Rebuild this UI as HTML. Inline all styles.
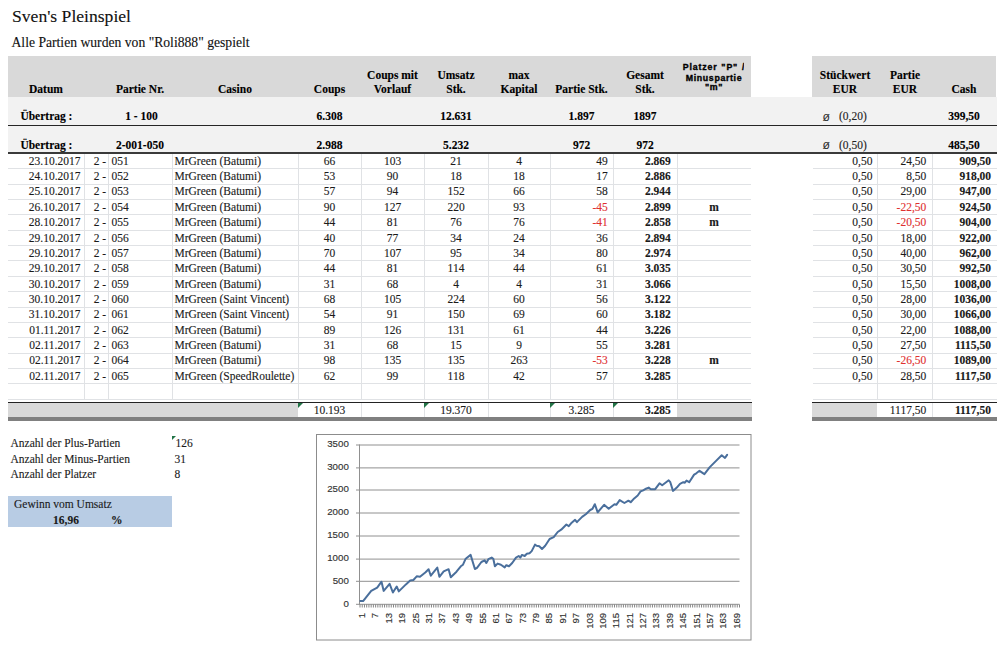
<!DOCTYPE html>
<html><head><meta charset="utf-8"><title>Sven's Pleinspiel</title>
<style>
html,body{margin:0;padding:0;background:#fff;}
body{width:1000px;height:647px;position:relative;overflow:hidden;}
</style></head><body>
<div style="position:absolute;left:12px;top:7.56px;width:288.00px;font:17.6px/17.6px 'Liberation Serif', serif;text-align:left;color:#111;white-space:nowrap;-webkit-text-stroke:0.12px #111;">Sven's Pleinspiel</div>
<div style="position:absolute;left:11.5px;top:36.47px;width:388.50px;font:13.65px/13.65px 'Liberation Serif', serif;text-align:left;color:#111;white-space:nowrap;-webkit-text-stroke:0.12px #111;">Alle Partien wurden von "Roli888" gespielt</div>
<div style="position:absolute;left:8px;top:56px;width:743.00px;height:40.50px;background:#d9d9d9"></div>
<div style="position:absolute;left:812px;top:56px;width:184.00px;height:40.50px;background:#d9d9d9"></div>
<div style="position:absolute;left:8px;top:96.5px;width:989.00px;height:56.50px;background:#f2f2f2"></div>
<div style="position:absolute;left:-4px;top:83.57px;width:100.00px;font:bold 11.5px/11.5px 'Liberation Serif', serif;text-align:center;color:#000;white-space:nowrap;-webkit-text-stroke:0.12px #000;">Datum</div>
<div style="position:absolute;left:90px;top:83.57px;width:100.00px;font:bold 11.5px/11.5px 'Liberation Serif', serif;text-align:center;color:#000;white-space:nowrap;-webkit-text-stroke:0.12px #000;">Partie Nr.</div>
<div style="position:absolute;left:185px;top:83.57px;width:100.00px;font:bold 11.5px/11.5px 'Liberation Serif', serif;text-align:center;color:#000;white-space:nowrap;-webkit-text-stroke:0.12px #000;">Casino</div>
<div style="position:absolute;left:279.5px;top:83.57px;width:100.00px;font:bold 11.5px/11.5px 'Liberation Serif', serif;text-align:center;color:#000;white-space:nowrap;-webkit-text-stroke:0.12px #000;">Coups</div>
<div style="position:absolute;left:342.5px;top:69.77px;width:100.00px;font:bold 11.5px/11.5px 'Liberation Serif', serif;text-align:center;color:#000;white-space:nowrap;-webkit-text-stroke:0.12px #000;">Coups mit</div>
<div style="position:absolute;left:342.5px;top:83.57px;width:100.00px;font:bold 11.5px/11.5px 'Liberation Serif', serif;text-align:center;color:#000;white-space:nowrap;-webkit-text-stroke:0.12px #000;">Vorlauf</div>
<div style="position:absolute;left:406px;top:69.77px;width:100.00px;font:bold 11.5px/11.5px 'Liberation Serif', serif;text-align:center;color:#000;white-space:nowrap;-webkit-text-stroke:0.12px #000;">Umsatz</div>
<div style="position:absolute;left:406px;top:83.57px;width:100.00px;font:bold 11.5px/11.5px 'Liberation Serif', serif;text-align:center;color:#000;white-space:nowrap;-webkit-text-stroke:0.12px #000;">Stk.</div>
<div style="position:absolute;left:469px;top:69.77px;width:100.00px;font:bold 11.5px/11.5px 'Liberation Serif', serif;text-align:center;color:#000;white-space:nowrap;-webkit-text-stroke:0.12px #000;">max</div>
<div style="position:absolute;left:469px;top:83.57px;width:100.00px;font:bold 11.5px/11.5px 'Liberation Serif', serif;text-align:center;color:#000;white-space:nowrap;-webkit-text-stroke:0.12px #000;">Kapital</div>
<div style="position:absolute;left:531.5px;top:83.57px;width:100.00px;font:bold 11.5px/11.5px 'Liberation Serif', serif;text-align:center;color:#000;white-space:nowrap;-webkit-text-stroke:0.12px #000;">Partie Stk.</div>
<div style="position:absolute;left:595px;top:69.77px;width:100.00px;font:bold 11.5px/11.5px 'Liberation Serif', serif;text-align:center;color:#000;white-space:nowrap;-webkit-text-stroke:0.12px #000;">Gesamt</div>
<div style="position:absolute;left:595px;top:83.57px;width:100.00px;font:bold 11.5px/11.5px 'Liberation Serif', serif;text-align:center;color:#000;white-space:nowrap;-webkit-text-stroke:0.12px #000;">Stk.</div>
<div style="position:absolute;left:795px;top:69.77px;width:100.00px;font:bold 11.5px/11.5px 'Liberation Serif', serif;text-align:center;color:#000;white-space:nowrap;-webkit-text-stroke:0.12px #000;">Stückwert</div>
<div style="position:absolute;left:795px;top:83.57px;width:100.00px;font:bold 11.5px/11.5px 'Liberation Serif', serif;text-align:center;color:#000;white-space:nowrap;-webkit-text-stroke:0.12px #000;">EUR</div>
<div style="position:absolute;left:855px;top:69.77px;width:100.00px;font:bold 11.5px/11.5px 'Liberation Serif', serif;text-align:center;color:#000;white-space:nowrap;-webkit-text-stroke:0.12px #000;">Partie</div>
<div style="position:absolute;left:855px;top:83.57px;width:100.00px;font:bold 11.5px/11.5px 'Liberation Serif', serif;text-align:center;color:#000;white-space:nowrap;-webkit-text-stroke:0.12px #000;">EUR</div>
<div style="position:absolute;left:914px;top:83.57px;width:100.00px;font:bold 11.5px/11.5px 'Liberation Serif', serif;text-align:center;color:#000;white-space:nowrap;-webkit-text-stroke:0.12px #000;">Cash</div>
<div style="position:absolute;left:677px;top:56px;width:67px;height:40px;overflow:hidden">
<div style="position:absolute;left:0;top:7.15px;width:74px;font:bold 8.8px/8.8px 'Liberation Sans', sans-serif;letter-spacing:0.85px;word-spacing:0.5px;-webkit-text-stroke:0.35px #000;text-align:center;white-space:nowrap;color:#000">Platzer "P" /</div>
<div style="position:absolute;left:0;top:17.85px;width:74px;font:bold 8.8px/8.8px 'Liberation Sans', sans-serif;letter-spacing:0.64px;word-spacing:0px;-webkit-text-stroke:0.35px #000;text-align:center;white-space:nowrap;color:#000">Minuspartie</div>
<div style="position:absolute;left:0;top:27.35px;width:74px;font:bold 8.8px/8.8px 'Liberation Sans', sans-serif;letter-spacing:0.64px;word-spacing:0px;-webkit-text-stroke:0.35px #000;text-align:center;white-space:nowrap;color:#000">"m"</div>
</div>
<div style="position:absolute;left:20.4px;top:111.37px;width:79.60px;font:bold 11.5px/11.5px 'Liberation Serif', serif;text-align:left;color:#000;white-space:nowrap;-webkit-text-stroke:0.12px #000;">Übertrag :</div>
<div style="position:absolute;left:91.5px;top:111.37px;width:100.00px;font:bold 11.5px/11.5px 'Liberation Serif', serif;text-align:center;color:#000;white-space:nowrap;-webkit-text-stroke:0.12px #000;">1 - 100</div>
<div style="position:absolute;left:279.5px;top:111.37px;width:100.00px;font:bold 11.5px/11.5px 'Liberation Serif', serif;text-align:center;color:#000;white-space:nowrap;-webkit-text-stroke:0.12px #000;">6.308</div>
<div style="position:absolute;left:406px;top:111.37px;width:100.00px;font:bold 11.5px/11.5px 'Liberation Serif', serif;text-align:center;color:#000;white-space:nowrap;-webkit-text-stroke:0.12px #000;">12.631</div>
<div style="position:absolute;left:531.5px;top:111.37px;width:100.00px;font:bold 11.5px/11.5px 'Liberation Serif', serif;text-align:center;color:#000;white-space:nowrap;-webkit-text-stroke:0.12px #000;">1.897</div>
<div style="position:absolute;left:595px;top:111.37px;width:100.00px;font:bold 11.5px/11.5px 'Liberation Serif', serif;text-align:center;color:#000;white-space:nowrap;-webkit-text-stroke:0.12px #000;">1897</div>
<div style="position:absolute;left:822.5px;top:110.67px;width:17.50px;font:12.2px/12.2px 'Liberation Sans', sans-serif;text-align:left;color:#333;white-space:nowrap;">ø</div>
<div style="position:absolute;left:839px;top:111.37px;width:61.00px;font:11.5px/11.5px 'Liberation Serif', serif;text-align:left;color:#222;white-space:nowrap;-webkit-text-stroke:0.12px #222;">(0,20)</div>
<div style="position:absolute;left:914px;top:111.37px;width:100.00px;font:bold 11.5px/11.5px 'Liberation Serif', serif;text-align:center;color:#000;white-space:nowrap;-webkit-text-stroke:0.12px #000;">399,50</div>
<div style="position:absolute;left:20.4px;top:139.57px;width:79.60px;font:bold 11.5px/11.5px 'Liberation Serif', serif;text-align:left;color:#000;white-space:nowrap;-webkit-text-stroke:0.12px #000;">Übertrag :</div>
<div style="position:absolute;left:90px;top:139.57px;width:100.00px;font:bold 11.5px/11.5px 'Liberation Serif', serif;text-align:center;color:#000;white-space:nowrap;-webkit-text-stroke:0.12px #000;">2-001-050</div>
<div style="position:absolute;left:279.5px;top:139.57px;width:100.00px;font:bold 11.5px/11.5px 'Liberation Serif', serif;text-align:center;color:#000;white-space:nowrap;-webkit-text-stroke:0.12px #000;">2.988</div>
<div style="position:absolute;left:406px;top:139.57px;width:100.00px;font:bold 11.5px/11.5px 'Liberation Serif', serif;text-align:center;color:#000;white-space:nowrap;-webkit-text-stroke:0.12px #000;">5.232</div>
<div style="position:absolute;left:531.5px;top:139.57px;width:100.00px;font:bold 11.5px/11.5px 'Liberation Serif', serif;text-align:center;color:#000;white-space:nowrap;-webkit-text-stroke:0.12px #000;">972</div>
<div style="position:absolute;left:595px;top:139.57px;width:100.00px;font:bold 11.5px/11.5px 'Liberation Serif', serif;text-align:center;color:#000;white-space:nowrap;-webkit-text-stroke:0.12px #000;">972</div>
<div style="position:absolute;left:822.5px;top:138.87px;width:17.50px;font:12.2px/12.2px 'Liberation Sans', sans-serif;text-align:left;color:#333;white-space:nowrap;">ø</div>
<div style="position:absolute;left:839px;top:139.57px;width:61.00px;font:11.5px/11.5px 'Liberation Serif', serif;text-align:left;color:#222;white-space:nowrap;-webkit-text-stroke:0.12px #222;">(0,50)</div>
<div style="position:absolute;left:914px;top:139.57px;width:100.00px;font:bold 11.5px/11.5px 'Liberation Serif', serif;text-align:center;color:#000;white-space:nowrap;-webkit-text-stroke:0.12px #000;">485,50</div>
<div style="position:absolute;left:8px;top:124.7px;width:989.00px;height:1.10px;background:#262626"></div>
<div style="position:absolute;left:8px;top:152.4px;width:989.00px;height:1.20px;background:#3a3a3a"></div>
<div style="position:absolute;left:8px;top:168.35px;width:743.00px;height:1.00px;background:#e0e2e5"></div>
<div style="position:absolute;left:813px;top:168.35px;width:184.00px;height:1.00px;background:#e0e2e5"></div>
<div style="position:absolute;left:8px;top:183.7px;width:743.00px;height:1.00px;background:#e0e2e5"></div>
<div style="position:absolute;left:813px;top:183.7px;width:184.00px;height:1.00px;background:#e0e2e5"></div>
<div style="position:absolute;left:8px;top:199.05px;width:743.00px;height:1.00px;background:#e0e2e5"></div>
<div style="position:absolute;left:813px;top:199.05px;width:184.00px;height:1.00px;background:#e0e2e5"></div>
<div style="position:absolute;left:8px;top:214.4px;width:743.00px;height:1.00px;background:#e0e2e5"></div>
<div style="position:absolute;left:813px;top:214.4px;width:184.00px;height:1.00px;background:#e0e2e5"></div>
<div style="position:absolute;left:8px;top:229.75px;width:743.00px;height:1.00px;background:#e0e2e5"></div>
<div style="position:absolute;left:813px;top:229.75px;width:184.00px;height:1.00px;background:#e0e2e5"></div>
<div style="position:absolute;left:8px;top:245.1px;width:743.00px;height:1.00px;background:#e0e2e5"></div>
<div style="position:absolute;left:813px;top:245.1px;width:184.00px;height:1.00px;background:#e0e2e5"></div>
<div style="position:absolute;left:8px;top:260.45px;width:743.00px;height:1.00px;background:#e0e2e5"></div>
<div style="position:absolute;left:813px;top:260.45px;width:184.00px;height:1.00px;background:#e0e2e5"></div>
<div style="position:absolute;left:8px;top:275.8px;width:743.00px;height:1.00px;background:#e0e2e5"></div>
<div style="position:absolute;left:813px;top:275.8px;width:184.00px;height:1.00px;background:#e0e2e5"></div>
<div style="position:absolute;left:8px;top:291.15px;width:743.00px;height:1.00px;background:#e0e2e5"></div>
<div style="position:absolute;left:813px;top:291.15px;width:184.00px;height:1.00px;background:#e0e2e5"></div>
<div style="position:absolute;left:8px;top:306.5px;width:743.00px;height:1.00px;background:#e0e2e5"></div>
<div style="position:absolute;left:813px;top:306.5px;width:184.00px;height:1.00px;background:#e0e2e5"></div>
<div style="position:absolute;left:8px;top:321.85px;width:743.00px;height:1.00px;background:#e0e2e5"></div>
<div style="position:absolute;left:813px;top:321.85px;width:184.00px;height:1.00px;background:#e0e2e5"></div>
<div style="position:absolute;left:8px;top:337.2px;width:743.00px;height:1.00px;background:#e0e2e5"></div>
<div style="position:absolute;left:813px;top:337.2px;width:184.00px;height:1.00px;background:#e0e2e5"></div>
<div style="position:absolute;left:8px;top:352.54999999999995px;width:743.00px;height:1.00px;background:#e0e2e5"></div>
<div style="position:absolute;left:813px;top:352.54999999999995px;width:184.00px;height:1.00px;background:#e0e2e5"></div>
<div style="position:absolute;left:8px;top:367.9px;width:743.00px;height:1.00px;background:#e0e2e5"></div>
<div style="position:absolute;left:813px;top:367.9px;width:184.00px;height:1.00px;background:#e0e2e5"></div>
<div style="position:absolute;left:8px;top:383.25px;width:743.00px;height:1.00px;background:#e0e2e5"></div>
<div style="position:absolute;left:813px;top:383.25px;width:184.00px;height:1.00px;background:#e0e2e5"></div>
<div style="position:absolute;left:8px;top:398.6px;width:743.00px;height:1.00px;background:#e0e2e5"></div>
<div style="position:absolute;left:813px;top:398.6px;width:184.00px;height:1.00px;background:#e0e2e5"></div>
<div style="position:absolute;left:83.5px;top:153.5px;width:1.00px;height:245.60px;background:#e0e2e5"></div>
<div style="position:absolute;left:107.5px;top:153.5px;width:1.00px;height:245.60px;background:#e0e2e5"></div>
<div style="position:absolute;left:171.5px;top:153.5px;width:1.00px;height:245.60px;background:#e0e2e5"></div>
<div style="position:absolute;left:297.5px;top:153.5px;width:1.00px;height:245.60px;background:#e0e2e5"></div>
<div style="position:absolute;left:360.5px;top:153.5px;width:1.00px;height:245.60px;background:#e0e2e5"></div>
<div style="position:absolute;left:423.5px;top:153.5px;width:1.00px;height:245.60px;background:#e0e2e5"></div>
<div style="position:absolute;left:487.5px;top:153.5px;width:1.00px;height:245.60px;background:#e0e2e5"></div>
<div style="position:absolute;left:549.5px;top:153.5px;width:1.00px;height:245.60px;background:#e0e2e5"></div>
<div style="position:absolute;left:612.5px;top:153.5px;width:1.00px;height:245.60px;background:#e0e2e5"></div>
<div style="position:absolute;left:676.5px;top:153.5px;width:1.00px;height:245.60px;background:#e0e2e5"></div>
<div style="position:absolute;left:876.5px;top:153.5px;width:1.00px;height:245.60px;background:#e0e2e5"></div>
<div style="position:absolute;left:931.5px;top:153.5px;width:1.00px;height:245.60px;background:#e0e2e5"></div>
<div style="position:absolute;left:8px;top:155.77px;width:76.00px;font:11.5px/11.5px 'Liberation Serif', serif;text-align:right;color:#1a1a1a;white-space:nowrap;padding-right:3.5px;box-sizing:border-box;-webkit-text-stroke:0.12px #1a1a1a;">23.10.2017</div>
<div style="position:absolute;left:84px;top:155.77px;width:24.00px;font:11.5px/11.5px 'Liberation Serif', serif;text-align:right;color:#1a1a1a;white-space:nowrap;padding-right:1.8px;box-sizing:border-box;-webkit-text-stroke:0.12px #1a1a1a;">2 -</div>
<div style="position:absolute;left:108px;top:155.77px;width:64.00px;font:11.5px/11.5px 'Liberation Serif', serif;text-align:left;color:#1a1a1a;white-space:nowrap;padding-left:3.4px;box-sizing:border-box;-webkit-text-stroke:0.12px #1a1a1a;">051</div>
<div style="position:absolute;left:172px;top:155.77px;width:126.00px;font:11.5px/11.5px 'Liberation Serif', serif;text-align:left;color:#1a1a1a;white-space:nowrap;padding-left:2.5px;box-sizing:border-box;-webkit-text-stroke:0.12px #1a1a1a;">MrGreen (Batumi)</div>
<div style="position:absolute;left:298px;top:155.77px;width:63.00px;font:11.5px/11.5px 'Liberation Serif', serif;text-align:center;color:#1a1a1a;white-space:nowrap;-webkit-text-stroke:0.12px #1a1a1a;">66</div>
<div style="position:absolute;left:361px;top:155.77px;width:63.00px;font:11.5px/11.5px 'Liberation Serif', serif;text-align:center;color:#1a1a1a;white-space:nowrap;-webkit-text-stroke:0.12px #1a1a1a;">103</div>
<div style="position:absolute;left:424px;top:155.77px;width:64.00px;font:11.5px/11.5px 'Liberation Serif', serif;text-align:center;color:#1a1a1a;white-space:nowrap;-webkit-text-stroke:0.12px #1a1a1a;">21</div>
<div style="position:absolute;left:488px;top:155.77px;width:62.00px;font:11.5px/11.5px 'Liberation Serif', serif;text-align:center;color:#1a1a1a;white-space:nowrap;-webkit-text-stroke:0.12px #1a1a1a;">4</div>
<div style="position:absolute;left:550px;top:155.77px;width:63.00px;font:11.5px/11.5px 'Liberation Serif', serif;text-align:right;color:#1a1a1a;white-space:nowrap;padding-right:5.2px;box-sizing:border-box;-webkit-text-stroke:0.12px #1a1a1a;">49</div>
<div style="position:absolute;left:613px;top:155.77px;width:64.00px;font:bold 11.5px/11.5px 'Liberation Serif', serif;text-align:right;color:#1a1a1a;white-space:nowrap;padding-right:6.2px;box-sizing:border-box;-webkit-text-stroke:0.12px #1a1a1a;">2.869</div>
<div style="position:absolute;left:813px;top:155.77px;width:64.00px;font:11.5px/11.5px 'Liberation Serif', serif;text-align:right;color:#1a1a1a;white-space:nowrap;padding-right:4.6px;box-sizing:border-box;-webkit-text-stroke:0.12px #1a1a1a;">0,50</div>
<div style="position:absolute;left:877px;top:155.77px;width:55.00px;font:11.5px/11.5px 'Liberation Serif', serif;text-align:right;color:#1a1a1a;white-space:nowrap;padding-right:5.7px;box-sizing:border-box;-webkit-text-stroke:0.12px #1a1a1a;">24,50</div>
<div style="position:absolute;left:932px;top:155.77px;width:65.00px;font:bold 11.5px/11.5px 'Liberation Serif', serif;text-align:right;color:#1a1a1a;white-space:nowrap;padding-right:6px;box-sizing:border-box;-webkit-text-stroke:0.12px #1a1a1a;">909,50</div>
<div style="position:absolute;left:8px;top:171.12px;width:76.00px;font:11.5px/11.5px 'Liberation Serif', serif;text-align:right;color:#1a1a1a;white-space:nowrap;padding-right:3.5px;box-sizing:border-box;-webkit-text-stroke:0.12px #1a1a1a;">24.10.2017</div>
<div style="position:absolute;left:84px;top:171.12px;width:24.00px;font:11.5px/11.5px 'Liberation Serif', serif;text-align:right;color:#1a1a1a;white-space:nowrap;padding-right:1.8px;box-sizing:border-box;-webkit-text-stroke:0.12px #1a1a1a;">2 -</div>
<div style="position:absolute;left:108px;top:171.12px;width:64.00px;font:11.5px/11.5px 'Liberation Serif', serif;text-align:left;color:#1a1a1a;white-space:nowrap;padding-left:3.4px;box-sizing:border-box;-webkit-text-stroke:0.12px #1a1a1a;">052</div>
<div style="position:absolute;left:172px;top:171.12px;width:126.00px;font:11.5px/11.5px 'Liberation Serif', serif;text-align:left;color:#1a1a1a;white-space:nowrap;padding-left:2.5px;box-sizing:border-box;-webkit-text-stroke:0.12px #1a1a1a;">MrGreen (Batumi)</div>
<div style="position:absolute;left:298px;top:171.12px;width:63.00px;font:11.5px/11.5px 'Liberation Serif', serif;text-align:center;color:#1a1a1a;white-space:nowrap;-webkit-text-stroke:0.12px #1a1a1a;">53</div>
<div style="position:absolute;left:361px;top:171.12px;width:63.00px;font:11.5px/11.5px 'Liberation Serif', serif;text-align:center;color:#1a1a1a;white-space:nowrap;-webkit-text-stroke:0.12px #1a1a1a;">90</div>
<div style="position:absolute;left:424px;top:171.12px;width:64.00px;font:11.5px/11.5px 'Liberation Serif', serif;text-align:center;color:#1a1a1a;white-space:nowrap;-webkit-text-stroke:0.12px #1a1a1a;">18</div>
<div style="position:absolute;left:488px;top:171.12px;width:62.00px;font:11.5px/11.5px 'Liberation Serif', serif;text-align:center;color:#1a1a1a;white-space:nowrap;-webkit-text-stroke:0.12px #1a1a1a;">18</div>
<div style="position:absolute;left:550px;top:171.12px;width:63.00px;font:11.5px/11.5px 'Liberation Serif', serif;text-align:right;color:#1a1a1a;white-space:nowrap;padding-right:5.2px;box-sizing:border-box;-webkit-text-stroke:0.12px #1a1a1a;">17</div>
<div style="position:absolute;left:613px;top:171.12px;width:64.00px;font:bold 11.5px/11.5px 'Liberation Serif', serif;text-align:right;color:#1a1a1a;white-space:nowrap;padding-right:6.2px;box-sizing:border-box;-webkit-text-stroke:0.12px #1a1a1a;">2.886</div>
<div style="position:absolute;left:813px;top:171.12px;width:64.00px;font:11.5px/11.5px 'Liberation Serif', serif;text-align:right;color:#1a1a1a;white-space:nowrap;padding-right:4.6px;box-sizing:border-box;-webkit-text-stroke:0.12px #1a1a1a;">0,50</div>
<div style="position:absolute;left:877px;top:171.12px;width:55.00px;font:11.5px/11.5px 'Liberation Serif', serif;text-align:right;color:#1a1a1a;white-space:nowrap;padding-right:5.7px;box-sizing:border-box;-webkit-text-stroke:0.12px #1a1a1a;">8,50</div>
<div style="position:absolute;left:932px;top:171.12px;width:65.00px;font:bold 11.5px/11.5px 'Liberation Serif', serif;text-align:right;color:#1a1a1a;white-space:nowrap;padding-right:6px;box-sizing:border-box;-webkit-text-stroke:0.12px #1a1a1a;">918,00</div>
<div style="position:absolute;left:8px;top:186.47px;width:76.00px;font:11.5px/11.5px 'Liberation Serif', serif;text-align:right;color:#1a1a1a;white-space:nowrap;padding-right:3.5px;box-sizing:border-box;-webkit-text-stroke:0.12px #1a1a1a;">25.10.2017</div>
<div style="position:absolute;left:84px;top:186.47px;width:24.00px;font:11.5px/11.5px 'Liberation Serif', serif;text-align:right;color:#1a1a1a;white-space:nowrap;padding-right:1.8px;box-sizing:border-box;-webkit-text-stroke:0.12px #1a1a1a;">2 -</div>
<div style="position:absolute;left:108px;top:186.47px;width:64.00px;font:11.5px/11.5px 'Liberation Serif', serif;text-align:left;color:#1a1a1a;white-space:nowrap;padding-left:3.4px;box-sizing:border-box;-webkit-text-stroke:0.12px #1a1a1a;">053</div>
<div style="position:absolute;left:172px;top:186.47px;width:126.00px;font:11.5px/11.5px 'Liberation Serif', serif;text-align:left;color:#1a1a1a;white-space:nowrap;padding-left:2.5px;box-sizing:border-box;-webkit-text-stroke:0.12px #1a1a1a;">MrGreen (Batumi)</div>
<div style="position:absolute;left:298px;top:186.47px;width:63.00px;font:11.5px/11.5px 'Liberation Serif', serif;text-align:center;color:#1a1a1a;white-space:nowrap;-webkit-text-stroke:0.12px #1a1a1a;">57</div>
<div style="position:absolute;left:361px;top:186.47px;width:63.00px;font:11.5px/11.5px 'Liberation Serif', serif;text-align:center;color:#1a1a1a;white-space:nowrap;-webkit-text-stroke:0.12px #1a1a1a;">94</div>
<div style="position:absolute;left:424px;top:186.47px;width:64.00px;font:11.5px/11.5px 'Liberation Serif', serif;text-align:center;color:#1a1a1a;white-space:nowrap;-webkit-text-stroke:0.12px #1a1a1a;">152</div>
<div style="position:absolute;left:488px;top:186.47px;width:62.00px;font:11.5px/11.5px 'Liberation Serif', serif;text-align:center;color:#1a1a1a;white-space:nowrap;-webkit-text-stroke:0.12px #1a1a1a;">66</div>
<div style="position:absolute;left:550px;top:186.47px;width:63.00px;font:11.5px/11.5px 'Liberation Serif', serif;text-align:right;color:#1a1a1a;white-space:nowrap;padding-right:5.2px;box-sizing:border-box;-webkit-text-stroke:0.12px #1a1a1a;">58</div>
<div style="position:absolute;left:613px;top:186.47px;width:64.00px;font:bold 11.5px/11.5px 'Liberation Serif', serif;text-align:right;color:#1a1a1a;white-space:nowrap;padding-right:6.2px;box-sizing:border-box;-webkit-text-stroke:0.12px #1a1a1a;">2.944</div>
<div style="position:absolute;left:813px;top:186.47px;width:64.00px;font:11.5px/11.5px 'Liberation Serif', serif;text-align:right;color:#1a1a1a;white-space:nowrap;padding-right:4.6px;box-sizing:border-box;-webkit-text-stroke:0.12px #1a1a1a;">0,50</div>
<div style="position:absolute;left:877px;top:186.47px;width:55.00px;font:11.5px/11.5px 'Liberation Serif', serif;text-align:right;color:#1a1a1a;white-space:nowrap;padding-right:5.7px;box-sizing:border-box;-webkit-text-stroke:0.12px #1a1a1a;">29,00</div>
<div style="position:absolute;left:932px;top:186.47px;width:65.00px;font:bold 11.5px/11.5px 'Liberation Serif', serif;text-align:right;color:#1a1a1a;white-space:nowrap;padding-right:6px;box-sizing:border-box;-webkit-text-stroke:0.12px #1a1a1a;">947,00</div>
<div style="position:absolute;left:8px;top:201.82px;width:76.00px;font:11.5px/11.5px 'Liberation Serif', serif;text-align:right;color:#1a1a1a;white-space:nowrap;padding-right:3.5px;box-sizing:border-box;-webkit-text-stroke:0.12px #1a1a1a;">26.10.2017</div>
<div style="position:absolute;left:84px;top:201.82px;width:24.00px;font:11.5px/11.5px 'Liberation Serif', serif;text-align:right;color:#1a1a1a;white-space:nowrap;padding-right:1.8px;box-sizing:border-box;-webkit-text-stroke:0.12px #1a1a1a;">2 -</div>
<div style="position:absolute;left:108px;top:201.82px;width:64.00px;font:11.5px/11.5px 'Liberation Serif', serif;text-align:left;color:#1a1a1a;white-space:nowrap;padding-left:3.4px;box-sizing:border-box;-webkit-text-stroke:0.12px #1a1a1a;">054</div>
<div style="position:absolute;left:172px;top:201.82px;width:126.00px;font:11.5px/11.5px 'Liberation Serif', serif;text-align:left;color:#1a1a1a;white-space:nowrap;padding-left:2.5px;box-sizing:border-box;-webkit-text-stroke:0.12px #1a1a1a;">MrGreen (Batumi)</div>
<div style="position:absolute;left:298px;top:201.82px;width:63.00px;font:11.5px/11.5px 'Liberation Serif', serif;text-align:center;color:#1a1a1a;white-space:nowrap;-webkit-text-stroke:0.12px #1a1a1a;">90</div>
<div style="position:absolute;left:361px;top:201.82px;width:63.00px;font:11.5px/11.5px 'Liberation Serif', serif;text-align:center;color:#1a1a1a;white-space:nowrap;-webkit-text-stroke:0.12px #1a1a1a;">127</div>
<div style="position:absolute;left:424px;top:201.82px;width:64.00px;font:11.5px/11.5px 'Liberation Serif', serif;text-align:center;color:#1a1a1a;white-space:nowrap;-webkit-text-stroke:0.12px #1a1a1a;">220</div>
<div style="position:absolute;left:488px;top:201.82px;width:62.00px;font:11.5px/11.5px 'Liberation Serif', serif;text-align:center;color:#1a1a1a;white-space:nowrap;-webkit-text-stroke:0.12px #1a1a1a;">93</div>
<div style="position:absolute;left:550px;top:201.82px;width:63.00px;font:11.5px/11.5px 'Liberation Serif', serif;text-align:right;color:#e03030;white-space:nowrap;padding-right:5.2px;box-sizing:border-box;-webkit-text-stroke:0.12px #e03030;">-45</div>
<div style="position:absolute;left:613px;top:201.82px;width:64.00px;font:bold 11.5px/11.5px 'Liberation Serif', serif;text-align:right;color:#1a1a1a;white-space:nowrap;padding-right:6.2px;box-sizing:border-box;-webkit-text-stroke:0.12px #1a1a1a;">2.899</div>
<div style="position:absolute;left:677px;top:201.82px;width:74.00px;font:bold 11.5px/11.5px 'Liberation Serif', serif;text-align:center;color:#1a1a1a;white-space:nowrap;-webkit-text-stroke:0.12px #1a1a1a;">m</div>
<div style="position:absolute;left:813px;top:201.82px;width:64.00px;font:11.5px/11.5px 'Liberation Serif', serif;text-align:right;color:#1a1a1a;white-space:nowrap;padding-right:4.6px;box-sizing:border-box;-webkit-text-stroke:0.12px #1a1a1a;">0,50</div>
<div style="position:absolute;left:877px;top:201.82px;width:55.00px;font:11.5px/11.5px 'Liberation Serif', serif;text-align:right;color:#e03030;white-space:nowrap;padding-right:5.7px;box-sizing:border-box;-webkit-text-stroke:0.12px #e03030;">-22,50</div>
<div style="position:absolute;left:932px;top:201.82px;width:65.00px;font:bold 11.5px/11.5px 'Liberation Serif', serif;text-align:right;color:#1a1a1a;white-space:nowrap;padding-right:6px;box-sizing:border-box;-webkit-text-stroke:0.12px #1a1a1a;">924,50</div>
<div style="position:absolute;left:8px;top:217.17px;width:76.00px;font:11.5px/11.5px 'Liberation Serif', serif;text-align:right;color:#1a1a1a;white-space:nowrap;padding-right:3.5px;box-sizing:border-box;-webkit-text-stroke:0.12px #1a1a1a;">28.10.2017</div>
<div style="position:absolute;left:84px;top:217.17px;width:24.00px;font:11.5px/11.5px 'Liberation Serif', serif;text-align:right;color:#1a1a1a;white-space:nowrap;padding-right:1.8px;box-sizing:border-box;-webkit-text-stroke:0.12px #1a1a1a;">2 -</div>
<div style="position:absolute;left:108px;top:217.17px;width:64.00px;font:11.5px/11.5px 'Liberation Serif', serif;text-align:left;color:#1a1a1a;white-space:nowrap;padding-left:3.4px;box-sizing:border-box;-webkit-text-stroke:0.12px #1a1a1a;">055</div>
<div style="position:absolute;left:172px;top:217.17px;width:126.00px;font:11.5px/11.5px 'Liberation Serif', serif;text-align:left;color:#1a1a1a;white-space:nowrap;padding-left:2.5px;box-sizing:border-box;-webkit-text-stroke:0.12px #1a1a1a;">MrGreen (Batumi)</div>
<div style="position:absolute;left:298px;top:217.17px;width:63.00px;font:11.5px/11.5px 'Liberation Serif', serif;text-align:center;color:#1a1a1a;white-space:nowrap;-webkit-text-stroke:0.12px #1a1a1a;">44</div>
<div style="position:absolute;left:361px;top:217.17px;width:63.00px;font:11.5px/11.5px 'Liberation Serif', serif;text-align:center;color:#1a1a1a;white-space:nowrap;-webkit-text-stroke:0.12px #1a1a1a;">81</div>
<div style="position:absolute;left:424px;top:217.17px;width:64.00px;font:11.5px/11.5px 'Liberation Serif', serif;text-align:center;color:#1a1a1a;white-space:nowrap;-webkit-text-stroke:0.12px #1a1a1a;">76</div>
<div style="position:absolute;left:488px;top:217.17px;width:62.00px;font:11.5px/11.5px 'Liberation Serif', serif;text-align:center;color:#1a1a1a;white-space:nowrap;-webkit-text-stroke:0.12px #1a1a1a;">76</div>
<div style="position:absolute;left:550px;top:217.17px;width:63.00px;font:11.5px/11.5px 'Liberation Serif', serif;text-align:right;color:#e03030;white-space:nowrap;padding-right:5.2px;box-sizing:border-box;-webkit-text-stroke:0.12px #e03030;">-41</div>
<div style="position:absolute;left:613px;top:217.17px;width:64.00px;font:bold 11.5px/11.5px 'Liberation Serif', serif;text-align:right;color:#1a1a1a;white-space:nowrap;padding-right:6.2px;box-sizing:border-box;-webkit-text-stroke:0.12px #1a1a1a;">2.858</div>
<div style="position:absolute;left:677px;top:217.17px;width:74.00px;font:bold 11.5px/11.5px 'Liberation Serif', serif;text-align:center;color:#1a1a1a;white-space:nowrap;-webkit-text-stroke:0.12px #1a1a1a;">m</div>
<div style="position:absolute;left:813px;top:217.17px;width:64.00px;font:11.5px/11.5px 'Liberation Serif', serif;text-align:right;color:#1a1a1a;white-space:nowrap;padding-right:4.6px;box-sizing:border-box;-webkit-text-stroke:0.12px #1a1a1a;">0,50</div>
<div style="position:absolute;left:877px;top:217.17px;width:55.00px;font:11.5px/11.5px 'Liberation Serif', serif;text-align:right;color:#e03030;white-space:nowrap;padding-right:5.7px;box-sizing:border-box;-webkit-text-stroke:0.12px #e03030;">-20,50</div>
<div style="position:absolute;left:932px;top:217.17px;width:65.00px;font:bold 11.5px/11.5px 'Liberation Serif', serif;text-align:right;color:#1a1a1a;white-space:nowrap;padding-right:6px;box-sizing:border-box;-webkit-text-stroke:0.12px #1a1a1a;">904,00</div>
<div style="position:absolute;left:8px;top:232.52px;width:76.00px;font:11.5px/11.5px 'Liberation Serif', serif;text-align:right;color:#1a1a1a;white-space:nowrap;padding-right:3.5px;box-sizing:border-box;-webkit-text-stroke:0.12px #1a1a1a;">29.10.2017</div>
<div style="position:absolute;left:84px;top:232.52px;width:24.00px;font:11.5px/11.5px 'Liberation Serif', serif;text-align:right;color:#1a1a1a;white-space:nowrap;padding-right:1.8px;box-sizing:border-box;-webkit-text-stroke:0.12px #1a1a1a;">2 -</div>
<div style="position:absolute;left:108px;top:232.52px;width:64.00px;font:11.5px/11.5px 'Liberation Serif', serif;text-align:left;color:#1a1a1a;white-space:nowrap;padding-left:3.4px;box-sizing:border-box;-webkit-text-stroke:0.12px #1a1a1a;">056</div>
<div style="position:absolute;left:172px;top:232.52px;width:126.00px;font:11.5px/11.5px 'Liberation Serif', serif;text-align:left;color:#1a1a1a;white-space:nowrap;padding-left:2.5px;box-sizing:border-box;-webkit-text-stroke:0.12px #1a1a1a;">MrGreen (Batumi)</div>
<div style="position:absolute;left:298px;top:232.52px;width:63.00px;font:11.5px/11.5px 'Liberation Serif', serif;text-align:center;color:#1a1a1a;white-space:nowrap;-webkit-text-stroke:0.12px #1a1a1a;">40</div>
<div style="position:absolute;left:361px;top:232.52px;width:63.00px;font:11.5px/11.5px 'Liberation Serif', serif;text-align:center;color:#1a1a1a;white-space:nowrap;-webkit-text-stroke:0.12px #1a1a1a;">77</div>
<div style="position:absolute;left:424px;top:232.52px;width:64.00px;font:11.5px/11.5px 'Liberation Serif', serif;text-align:center;color:#1a1a1a;white-space:nowrap;-webkit-text-stroke:0.12px #1a1a1a;">34</div>
<div style="position:absolute;left:488px;top:232.52px;width:62.00px;font:11.5px/11.5px 'Liberation Serif', serif;text-align:center;color:#1a1a1a;white-space:nowrap;-webkit-text-stroke:0.12px #1a1a1a;">24</div>
<div style="position:absolute;left:550px;top:232.52px;width:63.00px;font:11.5px/11.5px 'Liberation Serif', serif;text-align:right;color:#1a1a1a;white-space:nowrap;padding-right:5.2px;box-sizing:border-box;-webkit-text-stroke:0.12px #1a1a1a;">36</div>
<div style="position:absolute;left:613px;top:232.52px;width:64.00px;font:bold 11.5px/11.5px 'Liberation Serif', serif;text-align:right;color:#1a1a1a;white-space:nowrap;padding-right:6.2px;box-sizing:border-box;-webkit-text-stroke:0.12px #1a1a1a;">2.894</div>
<div style="position:absolute;left:813px;top:232.52px;width:64.00px;font:11.5px/11.5px 'Liberation Serif', serif;text-align:right;color:#1a1a1a;white-space:nowrap;padding-right:4.6px;box-sizing:border-box;-webkit-text-stroke:0.12px #1a1a1a;">0,50</div>
<div style="position:absolute;left:877px;top:232.52px;width:55.00px;font:11.5px/11.5px 'Liberation Serif', serif;text-align:right;color:#1a1a1a;white-space:nowrap;padding-right:5.7px;box-sizing:border-box;-webkit-text-stroke:0.12px #1a1a1a;">18,00</div>
<div style="position:absolute;left:932px;top:232.52px;width:65.00px;font:bold 11.5px/11.5px 'Liberation Serif', serif;text-align:right;color:#1a1a1a;white-space:nowrap;padding-right:6px;box-sizing:border-box;-webkit-text-stroke:0.12px #1a1a1a;">922,00</div>
<div style="position:absolute;left:8px;top:247.87px;width:76.00px;font:11.5px/11.5px 'Liberation Serif', serif;text-align:right;color:#1a1a1a;white-space:nowrap;padding-right:3.5px;box-sizing:border-box;-webkit-text-stroke:0.12px #1a1a1a;">29.10.2017</div>
<div style="position:absolute;left:84px;top:247.87px;width:24.00px;font:11.5px/11.5px 'Liberation Serif', serif;text-align:right;color:#1a1a1a;white-space:nowrap;padding-right:1.8px;box-sizing:border-box;-webkit-text-stroke:0.12px #1a1a1a;">2 -</div>
<div style="position:absolute;left:108px;top:247.87px;width:64.00px;font:11.5px/11.5px 'Liberation Serif', serif;text-align:left;color:#1a1a1a;white-space:nowrap;padding-left:3.4px;box-sizing:border-box;-webkit-text-stroke:0.12px #1a1a1a;">057</div>
<div style="position:absolute;left:172px;top:247.87px;width:126.00px;font:11.5px/11.5px 'Liberation Serif', serif;text-align:left;color:#1a1a1a;white-space:nowrap;padding-left:2.5px;box-sizing:border-box;-webkit-text-stroke:0.12px #1a1a1a;">MrGreen (Batumi)</div>
<div style="position:absolute;left:298px;top:247.87px;width:63.00px;font:11.5px/11.5px 'Liberation Serif', serif;text-align:center;color:#1a1a1a;white-space:nowrap;-webkit-text-stroke:0.12px #1a1a1a;">70</div>
<div style="position:absolute;left:361px;top:247.87px;width:63.00px;font:11.5px/11.5px 'Liberation Serif', serif;text-align:center;color:#1a1a1a;white-space:nowrap;-webkit-text-stroke:0.12px #1a1a1a;">107</div>
<div style="position:absolute;left:424px;top:247.87px;width:64.00px;font:11.5px/11.5px 'Liberation Serif', serif;text-align:center;color:#1a1a1a;white-space:nowrap;-webkit-text-stroke:0.12px #1a1a1a;">95</div>
<div style="position:absolute;left:488px;top:247.87px;width:62.00px;font:11.5px/11.5px 'Liberation Serif', serif;text-align:center;color:#1a1a1a;white-space:nowrap;-webkit-text-stroke:0.12px #1a1a1a;">34</div>
<div style="position:absolute;left:550px;top:247.87px;width:63.00px;font:11.5px/11.5px 'Liberation Serif', serif;text-align:right;color:#1a1a1a;white-space:nowrap;padding-right:5.2px;box-sizing:border-box;-webkit-text-stroke:0.12px #1a1a1a;">80</div>
<div style="position:absolute;left:613px;top:247.87px;width:64.00px;font:bold 11.5px/11.5px 'Liberation Serif', serif;text-align:right;color:#1a1a1a;white-space:nowrap;padding-right:6.2px;box-sizing:border-box;-webkit-text-stroke:0.12px #1a1a1a;">2.974</div>
<div style="position:absolute;left:813px;top:247.87px;width:64.00px;font:11.5px/11.5px 'Liberation Serif', serif;text-align:right;color:#1a1a1a;white-space:nowrap;padding-right:4.6px;box-sizing:border-box;-webkit-text-stroke:0.12px #1a1a1a;">0,50</div>
<div style="position:absolute;left:877px;top:247.87px;width:55.00px;font:11.5px/11.5px 'Liberation Serif', serif;text-align:right;color:#1a1a1a;white-space:nowrap;padding-right:5.7px;box-sizing:border-box;-webkit-text-stroke:0.12px #1a1a1a;">40,00</div>
<div style="position:absolute;left:932px;top:247.87px;width:65.00px;font:bold 11.5px/11.5px 'Liberation Serif', serif;text-align:right;color:#1a1a1a;white-space:nowrap;padding-right:6px;box-sizing:border-box;-webkit-text-stroke:0.12px #1a1a1a;">962,00</div>
<div style="position:absolute;left:8px;top:263.22px;width:76.00px;font:11.5px/11.5px 'Liberation Serif', serif;text-align:right;color:#1a1a1a;white-space:nowrap;padding-right:3.5px;box-sizing:border-box;-webkit-text-stroke:0.12px #1a1a1a;">29.10.2017</div>
<div style="position:absolute;left:84px;top:263.22px;width:24.00px;font:11.5px/11.5px 'Liberation Serif', serif;text-align:right;color:#1a1a1a;white-space:nowrap;padding-right:1.8px;box-sizing:border-box;-webkit-text-stroke:0.12px #1a1a1a;">2 -</div>
<div style="position:absolute;left:108px;top:263.22px;width:64.00px;font:11.5px/11.5px 'Liberation Serif', serif;text-align:left;color:#1a1a1a;white-space:nowrap;padding-left:3.4px;box-sizing:border-box;-webkit-text-stroke:0.12px #1a1a1a;">058</div>
<div style="position:absolute;left:172px;top:263.22px;width:126.00px;font:11.5px/11.5px 'Liberation Serif', serif;text-align:left;color:#1a1a1a;white-space:nowrap;padding-left:2.5px;box-sizing:border-box;-webkit-text-stroke:0.12px #1a1a1a;">MrGreen (Batumi)</div>
<div style="position:absolute;left:298px;top:263.22px;width:63.00px;font:11.5px/11.5px 'Liberation Serif', serif;text-align:center;color:#1a1a1a;white-space:nowrap;-webkit-text-stroke:0.12px #1a1a1a;">44</div>
<div style="position:absolute;left:361px;top:263.22px;width:63.00px;font:11.5px/11.5px 'Liberation Serif', serif;text-align:center;color:#1a1a1a;white-space:nowrap;-webkit-text-stroke:0.12px #1a1a1a;">81</div>
<div style="position:absolute;left:424px;top:263.22px;width:64.00px;font:11.5px/11.5px 'Liberation Serif', serif;text-align:center;color:#1a1a1a;white-space:nowrap;-webkit-text-stroke:0.12px #1a1a1a;">114</div>
<div style="position:absolute;left:488px;top:263.22px;width:62.00px;font:11.5px/11.5px 'Liberation Serif', serif;text-align:center;color:#1a1a1a;white-space:nowrap;-webkit-text-stroke:0.12px #1a1a1a;">44</div>
<div style="position:absolute;left:550px;top:263.22px;width:63.00px;font:11.5px/11.5px 'Liberation Serif', serif;text-align:right;color:#1a1a1a;white-space:nowrap;padding-right:5.2px;box-sizing:border-box;-webkit-text-stroke:0.12px #1a1a1a;">61</div>
<div style="position:absolute;left:613px;top:263.22px;width:64.00px;font:bold 11.5px/11.5px 'Liberation Serif', serif;text-align:right;color:#1a1a1a;white-space:nowrap;padding-right:6.2px;box-sizing:border-box;-webkit-text-stroke:0.12px #1a1a1a;">3.035</div>
<div style="position:absolute;left:813px;top:263.22px;width:64.00px;font:11.5px/11.5px 'Liberation Serif', serif;text-align:right;color:#1a1a1a;white-space:nowrap;padding-right:4.6px;box-sizing:border-box;-webkit-text-stroke:0.12px #1a1a1a;">0,50</div>
<div style="position:absolute;left:877px;top:263.22px;width:55.00px;font:11.5px/11.5px 'Liberation Serif', serif;text-align:right;color:#1a1a1a;white-space:nowrap;padding-right:5.7px;box-sizing:border-box;-webkit-text-stroke:0.12px #1a1a1a;">30,50</div>
<div style="position:absolute;left:932px;top:263.22px;width:65.00px;font:bold 11.5px/11.5px 'Liberation Serif', serif;text-align:right;color:#1a1a1a;white-space:nowrap;padding-right:6px;box-sizing:border-box;-webkit-text-stroke:0.12px #1a1a1a;">992,50</div>
<div style="position:absolute;left:8px;top:278.57px;width:76.00px;font:11.5px/11.5px 'Liberation Serif', serif;text-align:right;color:#1a1a1a;white-space:nowrap;padding-right:3.5px;box-sizing:border-box;-webkit-text-stroke:0.12px #1a1a1a;">30.10.2017</div>
<div style="position:absolute;left:84px;top:278.57px;width:24.00px;font:11.5px/11.5px 'Liberation Serif', serif;text-align:right;color:#1a1a1a;white-space:nowrap;padding-right:1.8px;box-sizing:border-box;-webkit-text-stroke:0.12px #1a1a1a;">2 -</div>
<div style="position:absolute;left:108px;top:278.57px;width:64.00px;font:11.5px/11.5px 'Liberation Serif', serif;text-align:left;color:#1a1a1a;white-space:nowrap;padding-left:3.4px;box-sizing:border-box;-webkit-text-stroke:0.12px #1a1a1a;">059</div>
<div style="position:absolute;left:172px;top:278.57px;width:126.00px;font:11.5px/11.5px 'Liberation Serif', serif;text-align:left;color:#1a1a1a;white-space:nowrap;padding-left:2.5px;box-sizing:border-box;-webkit-text-stroke:0.12px #1a1a1a;">MrGreen (Batumi)</div>
<div style="position:absolute;left:298px;top:278.57px;width:63.00px;font:11.5px/11.5px 'Liberation Serif', serif;text-align:center;color:#1a1a1a;white-space:nowrap;-webkit-text-stroke:0.12px #1a1a1a;">31</div>
<div style="position:absolute;left:361px;top:278.57px;width:63.00px;font:11.5px/11.5px 'Liberation Serif', serif;text-align:center;color:#1a1a1a;white-space:nowrap;-webkit-text-stroke:0.12px #1a1a1a;">68</div>
<div style="position:absolute;left:424px;top:278.57px;width:64.00px;font:11.5px/11.5px 'Liberation Serif', serif;text-align:center;color:#1a1a1a;white-space:nowrap;-webkit-text-stroke:0.12px #1a1a1a;">4</div>
<div style="position:absolute;left:488px;top:278.57px;width:62.00px;font:11.5px/11.5px 'Liberation Serif', serif;text-align:center;color:#1a1a1a;white-space:nowrap;-webkit-text-stroke:0.12px #1a1a1a;">4</div>
<div style="position:absolute;left:550px;top:278.57px;width:63.00px;font:11.5px/11.5px 'Liberation Serif', serif;text-align:right;color:#1a1a1a;white-space:nowrap;padding-right:5.2px;box-sizing:border-box;-webkit-text-stroke:0.12px #1a1a1a;">31</div>
<div style="position:absolute;left:613px;top:278.57px;width:64.00px;font:bold 11.5px/11.5px 'Liberation Serif', serif;text-align:right;color:#1a1a1a;white-space:nowrap;padding-right:6.2px;box-sizing:border-box;-webkit-text-stroke:0.12px #1a1a1a;">3.066</div>
<div style="position:absolute;left:813px;top:278.57px;width:64.00px;font:11.5px/11.5px 'Liberation Serif', serif;text-align:right;color:#1a1a1a;white-space:nowrap;padding-right:4.6px;box-sizing:border-box;-webkit-text-stroke:0.12px #1a1a1a;">0,50</div>
<div style="position:absolute;left:877px;top:278.57px;width:55.00px;font:11.5px/11.5px 'Liberation Serif', serif;text-align:right;color:#1a1a1a;white-space:nowrap;padding-right:5.7px;box-sizing:border-box;-webkit-text-stroke:0.12px #1a1a1a;">15,50</div>
<div style="position:absolute;left:932px;top:278.57px;width:65.00px;font:bold 11.5px/11.5px 'Liberation Serif', serif;text-align:right;color:#1a1a1a;white-space:nowrap;padding-right:6px;box-sizing:border-box;-webkit-text-stroke:0.12px #1a1a1a;">1008,00</div>
<div style="position:absolute;left:8px;top:293.92px;width:76.00px;font:11.5px/11.5px 'Liberation Serif', serif;text-align:right;color:#1a1a1a;white-space:nowrap;padding-right:3.5px;box-sizing:border-box;-webkit-text-stroke:0.12px #1a1a1a;">30.10.2017</div>
<div style="position:absolute;left:84px;top:293.92px;width:24.00px;font:11.5px/11.5px 'Liberation Serif', serif;text-align:right;color:#1a1a1a;white-space:nowrap;padding-right:1.8px;box-sizing:border-box;-webkit-text-stroke:0.12px #1a1a1a;">2 -</div>
<div style="position:absolute;left:108px;top:293.92px;width:64.00px;font:11.5px/11.5px 'Liberation Serif', serif;text-align:left;color:#1a1a1a;white-space:nowrap;padding-left:3.4px;box-sizing:border-box;-webkit-text-stroke:0.12px #1a1a1a;">060</div>
<div style="position:absolute;left:172px;top:293.92px;width:126.00px;font:11.5px/11.5px 'Liberation Serif', serif;text-align:left;color:#1a1a1a;white-space:nowrap;padding-left:2.5px;box-sizing:border-box;-webkit-text-stroke:0.12px #1a1a1a;">MrGreen (Saint Vincent)</div>
<div style="position:absolute;left:298px;top:293.92px;width:63.00px;font:11.5px/11.5px 'Liberation Serif', serif;text-align:center;color:#1a1a1a;white-space:nowrap;-webkit-text-stroke:0.12px #1a1a1a;">68</div>
<div style="position:absolute;left:361px;top:293.92px;width:63.00px;font:11.5px/11.5px 'Liberation Serif', serif;text-align:center;color:#1a1a1a;white-space:nowrap;-webkit-text-stroke:0.12px #1a1a1a;">105</div>
<div style="position:absolute;left:424px;top:293.92px;width:64.00px;font:11.5px/11.5px 'Liberation Serif', serif;text-align:center;color:#1a1a1a;white-space:nowrap;-webkit-text-stroke:0.12px #1a1a1a;">224</div>
<div style="position:absolute;left:488px;top:293.92px;width:62.00px;font:11.5px/11.5px 'Liberation Serif', serif;text-align:center;color:#1a1a1a;white-space:nowrap;-webkit-text-stroke:0.12px #1a1a1a;">60</div>
<div style="position:absolute;left:550px;top:293.92px;width:63.00px;font:11.5px/11.5px 'Liberation Serif', serif;text-align:right;color:#1a1a1a;white-space:nowrap;padding-right:5.2px;box-sizing:border-box;-webkit-text-stroke:0.12px #1a1a1a;">56</div>
<div style="position:absolute;left:613px;top:293.92px;width:64.00px;font:bold 11.5px/11.5px 'Liberation Serif', serif;text-align:right;color:#1a1a1a;white-space:nowrap;padding-right:6.2px;box-sizing:border-box;-webkit-text-stroke:0.12px #1a1a1a;">3.122</div>
<div style="position:absolute;left:813px;top:293.92px;width:64.00px;font:11.5px/11.5px 'Liberation Serif', serif;text-align:right;color:#1a1a1a;white-space:nowrap;padding-right:4.6px;box-sizing:border-box;-webkit-text-stroke:0.12px #1a1a1a;">0,50</div>
<div style="position:absolute;left:877px;top:293.92px;width:55.00px;font:11.5px/11.5px 'Liberation Serif', serif;text-align:right;color:#1a1a1a;white-space:nowrap;padding-right:5.7px;box-sizing:border-box;-webkit-text-stroke:0.12px #1a1a1a;">28,00</div>
<div style="position:absolute;left:932px;top:293.92px;width:65.00px;font:bold 11.5px/11.5px 'Liberation Serif', serif;text-align:right;color:#1a1a1a;white-space:nowrap;padding-right:6px;box-sizing:border-box;-webkit-text-stroke:0.12px #1a1a1a;">1036,00</div>
<div style="position:absolute;left:8px;top:309.27px;width:76.00px;font:11.5px/11.5px 'Liberation Serif', serif;text-align:right;color:#1a1a1a;white-space:nowrap;padding-right:3.5px;box-sizing:border-box;-webkit-text-stroke:0.12px #1a1a1a;">31.10.2017</div>
<div style="position:absolute;left:84px;top:309.27px;width:24.00px;font:11.5px/11.5px 'Liberation Serif', serif;text-align:right;color:#1a1a1a;white-space:nowrap;padding-right:1.8px;box-sizing:border-box;-webkit-text-stroke:0.12px #1a1a1a;">2 -</div>
<div style="position:absolute;left:108px;top:309.27px;width:64.00px;font:11.5px/11.5px 'Liberation Serif', serif;text-align:left;color:#1a1a1a;white-space:nowrap;padding-left:3.4px;box-sizing:border-box;-webkit-text-stroke:0.12px #1a1a1a;">061</div>
<div style="position:absolute;left:172px;top:309.27px;width:126.00px;font:11.5px/11.5px 'Liberation Serif', serif;text-align:left;color:#1a1a1a;white-space:nowrap;padding-left:2.5px;box-sizing:border-box;-webkit-text-stroke:0.12px #1a1a1a;">MrGreen (Saint Vincent)</div>
<div style="position:absolute;left:298px;top:309.27px;width:63.00px;font:11.5px/11.5px 'Liberation Serif', serif;text-align:center;color:#1a1a1a;white-space:nowrap;-webkit-text-stroke:0.12px #1a1a1a;">54</div>
<div style="position:absolute;left:361px;top:309.27px;width:63.00px;font:11.5px/11.5px 'Liberation Serif', serif;text-align:center;color:#1a1a1a;white-space:nowrap;-webkit-text-stroke:0.12px #1a1a1a;">91</div>
<div style="position:absolute;left:424px;top:309.27px;width:64.00px;font:11.5px/11.5px 'Liberation Serif', serif;text-align:center;color:#1a1a1a;white-space:nowrap;-webkit-text-stroke:0.12px #1a1a1a;">150</div>
<div style="position:absolute;left:488px;top:309.27px;width:62.00px;font:11.5px/11.5px 'Liberation Serif', serif;text-align:center;color:#1a1a1a;white-space:nowrap;-webkit-text-stroke:0.12px #1a1a1a;">69</div>
<div style="position:absolute;left:550px;top:309.27px;width:63.00px;font:11.5px/11.5px 'Liberation Serif', serif;text-align:right;color:#1a1a1a;white-space:nowrap;padding-right:5.2px;box-sizing:border-box;-webkit-text-stroke:0.12px #1a1a1a;">60</div>
<div style="position:absolute;left:613px;top:309.27px;width:64.00px;font:bold 11.5px/11.5px 'Liberation Serif', serif;text-align:right;color:#1a1a1a;white-space:nowrap;padding-right:6.2px;box-sizing:border-box;-webkit-text-stroke:0.12px #1a1a1a;">3.182</div>
<div style="position:absolute;left:813px;top:309.27px;width:64.00px;font:11.5px/11.5px 'Liberation Serif', serif;text-align:right;color:#1a1a1a;white-space:nowrap;padding-right:4.6px;box-sizing:border-box;-webkit-text-stroke:0.12px #1a1a1a;">0,50</div>
<div style="position:absolute;left:877px;top:309.27px;width:55.00px;font:11.5px/11.5px 'Liberation Serif', serif;text-align:right;color:#1a1a1a;white-space:nowrap;padding-right:5.7px;box-sizing:border-box;-webkit-text-stroke:0.12px #1a1a1a;">30,00</div>
<div style="position:absolute;left:932px;top:309.27px;width:65.00px;font:bold 11.5px/11.5px 'Liberation Serif', serif;text-align:right;color:#1a1a1a;white-space:nowrap;padding-right:6px;box-sizing:border-box;-webkit-text-stroke:0.12px #1a1a1a;">1066,00</div>
<div style="position:absolute;left:8px;top:324.62px;width:76.00px;font:11.5px/11.5px 'Liberation Serif', serif;text-align:right;color:#1a1a1a;white-space:nowrap;padding-right:3.5px;box-sizing:border-box;-webkit-text-stroke:0.12px #1a1a1a;">01.11.2017</div>
<div style="position:absolute;left:84px;top:324.62px;width:24.00px;font:11.5px/11.5px 'Liberation Serif', serif;text-align:right;color:#1a1a1a;white-space:nowrap;padding-right:1.8px;box-sizing:border-box;-webkit-text-stroke:0.12px #1a1a1a;">2 -</div>
<div style="position:absolute;left:108px;top:324.62px;width:64.00px;font:11.5px/11.5px 'Liberation Serif', serif;text-align:left;color:#1a1a1a;white-space:nowrap;padding-left:3.4px;box-sizing:border-box;-webkit-text-stroke:0.12px #1a1a1a;">062</div>
<div style="position:absolute;left:172px;top:324.62px;width:126.00px;font:11.5px/11.5px 'Liberation Serif', serif;text-align:left;color:#1a1a1a;white-space:nowrap;padding-left:2.5px;box-sizing:border-box;-webkit-text-stroke:0.12px #1a1a1a;">MrGreen (Batumi)</div>
<div style="position:absolute;left:298px;top:324.62px;width:63.00px;font:11.5px/11.5px 'Liberation Serif', serif;text-align:center;color:#1a1a1a;white-space:nowrap;-webkit-text-stroke:0.12px #1a1a1a;">89</div>
<div style="position:absolute;left:361px;top:324.62px;width:63.00px;font:11.5px/11.5px 'Liberation Serif', serif;text-align:center;color:#1a1a1a;white-space:nowrap;-webkit-text-stroke:0.12px #1a1a1a;">126</div>
<div style="position:absolute;left:424px;top:324.62px;width:64.00px;font:11.5px/11.5px 'Liberation Serif', serif;text-align:center;color:#1a1a1a;white-space:nowrap;-webkit-text-stroke:0.12px #1a1a1a;">131</div>
<div style="position:absolute;left:488px;top:324.62px;width:62.00px;font:11.5px/11.5px 'Liberation Serif', serif;text-align:center;color:#1a1a1a;white-space:nowrap;-webkit-text-stroke:0.12px #1a1a1a;">61</div>
<div style="position:absolute;left:550px;top:324.62px;width:63.00px;font:11.5px/11.5px 'Liberation Serif', serif;text-align:right;color:#1a1a1a;white-space:nowrap;padding-right:5.2px;box-sizing:border-box;-webkit-text-stroke:0.12px #1a1a1a;">44</div>
<div style="position:absolute;left:613px;top:324.62px;width:64.00px;font:bold 11.5px/11.5px 'Liberation Serif', serif;text-align:right;color:#1a1a1a;white-space:nowrap;padding-right:6.2px;box-sizing:border-box;-webkit-text-stroke:0.12px #1a1a1a;">3.226</div>
<div style="position:absolute;left:813px;top:324.62px;width:64.00px;font:11.5px/11.5px 'Liberation Serif', serif;text-align:right;color:#1a1a1a;white-space:nowrap;padding-right:4.6px;box-sizing:border-box;-webkit-text-stroke:0.12px #1a1a1a;">0,50</div>
<div style="position:absolute;left:877px;top:324.62px;width:55.00px;font:11.5px/11.5px 'Liberation Serif', serif;text-align:right;color:#1a1a1a;white-space:nowrap;padding-right:5.7px;box-sizing:border-box;-webkit-text-stroke:0.12px #1a1a1a;">22,00</div>
<div style="position:absolute;left:932px;top:324.62px;width:65.00px;font:bold 11.5px/11.5px 'Liberation Serif', serif;text-align:right;color:#1a1a1a;white-space:nowrap;padding-right:6px;box-sizing:border-box;-webkit-text-stroke:0.12px #1a1a1a;">1088,00</div>
<div style="position:absolute;left:8px;top:339.97px;width:76.00px;font:11.5px/11.5px 'Liberation Serif', serif;text-align:right;color:#1a1a1a;white-space:nowrap;padding-right:3.5px;box-sizing:border-box;-webkit-text-stroke:0.12px #1a1a1a;">02.11.2017</div>
<div style="position:absolute;left:84px;top:339.97px;width:24.00px;font:11.5px/11.5px 'Liberation Serif', serif;text-align:right;color:#1a1a1a;white-space:nowrap;padding-right:1.8px;box-sizing:border-box;-webkit-text-stroke:0.12px #1a1a1a;">2 -</div>
<div style="position:absolute;left:108px;top:339.97px;width:64.00px;font:11.5px/11.5px 'Liberation Serif', serif;text-align:left;color:#1a1a1a;white-space:nowrap;padding-left:3.4px;box-sizing:border-box;-webkit-text-stroke:0.12px #1a1a1a;">063</div>
<div style="position:absolute;left:172px;top:339.97px;width:126.00px;font:11.5px/11.5px 'Liberation Serif', serif;text-align:left;color:#1a1a1a;white-space:nowrap;padding-left:2.5px;box-sizing:border-box;-webkit-text-stroke:0.12px #1a1a1a;">MrGreen (Batumi)</div>
<div style="position:absolute;left:298px;top:339.97px;width:63.00px;font:11.5px/11.5px 'Liberation Serif', serif;text-align:center;color:#1a1a1a;white-space:nowrap;-webkit-text-stroke:0.12px #1a1a1a;">31</div>
<div style="position:absolute;left:361px;top:339.97px;width:63.00px;font:11.5px/11.5px 'Liberation Serif', serif;text-align:center;color:#1a1a1a;white-space:nowrap;-webkit-text-stroke:0.12px #1a1a1a;">68</div>
<div style="position:absolute;left:424px;top:339.97px;width:64.00px;font:11.5px/11.5px 'Liberation Serif', serif;text-align:center;color:#1a1a1a;white-space:nowrap;-webkit-text-stroke:0.12px #1a1a1a;">15</div>
<div style="position:absolute;left:488px;top:339.97px;width:62.00px;font:11.5px/11.5px 'Liberation Serif', serif;text-align:center;color:#1a1a1a;white-space:nowrap;-webkit-text-stroke:0.12px #1a1a1a;">9</div>
<div style="position:absolute;left:550px;top:339.97px;width:63.00px;font:11.5px/11.5px 'Liberation Serif', serif;text-align:right;color:#1a1a1a;white-space:nowrap;padding-right:5.2px;box-sizing:border-box;-webkit-text-stroke:0.12px #1a1a1a;">55</div>
<div style="position:absolute;left:613px;top:339.97px;width:64.00px;font:bold 11.5px/11.5px 'Liberation Serif', serif;text-align:right;color:#1a1a1a;white-space:nowrap;padding-right:6.2px;box-sizing:border-box;-webkit-text-stroke:0.12px #1a1a1a;">3.281</div>
<div style="position:absolute;left:813px;top:339.97px;width:64.00px;font:11.5px/11.5px 'Liberation Serif', serif;text-align:right;color:#1a1a1a;white-space:nowrap;padding-right:4.6px;box-sizing:border-box;-webkit-text-stroke:0.12px #1a1a1a;">0,50</div>
<div style="position:absolute;left:877px;top:339.97px;width:55.00px;font:11.5px/11.5px 'Liberation Serif', serif;text-align:right;color:#1a1a1a;white-space:nowrap;padding-right:5.7px;box-sizing:border-box;-webkit-text-stroke:0.12px #1a1a1a;">27,50</div>
<div style="position:absolute;left:932px;top:339.97px;width:65.00px;font:bold 11.5px/11.5px 'Liberation Serif', serif;text-align:right;color:#1a1a1a;white-space:nowrap;padding-right:6px;box-sizing:border-box;-webkit-text-stroke:0.12px #1a1a1a;">1115,50</div>
<div style="position:absolute;left:8px;top:355.32px;width:76.00px;font:11.5px/11.5px 'Liberation Serif', serif;text-align:right;color:#1a1a1a;white-space:nowrap;padding-right:3.5px;box-sizing:border-box;-webkit-text-stroke:0.12px #1a1a1a;">02.11.2017</div>
<div style="position:absolute;left:84px;top:355.32px;width:24.00px;font:11.5px/11.5px 'Liberation Serif', serif;text-align:right;color:#1a1a1a;white-space:nowrap;padding-right:1.8px;box-sizing:border-box;-webkit-text-stroke:0.12px #1a1a1a;">2 -</div>
<div style="position:absolute;left:108px;top:355.32px;width:64.00px;font:11.5px/11.5px 'Liberation Serif', serif;text-align:left;color:#1a1a1a;white-space:nowrap;padding-left:3.4px;box-sizing:border-box;-webkit-text-stroke:0.12px #1a1a1a;">064</div>
<div style="position:absolute;left:172px;top:355.32px;width:126.00px;font:11.5px/11.5px 'Liberation Serif', serif;text-align:left;color:#1a1a1a;white-space:nowrap;padding-left:2.5px;box-sizing:border-box;-webkit-text-stroke:0.12px #1a1a1a;">MrGreen (Batumi)</div>
<div style="position:absolute;left:298px;top:355.32px;width:63.00px;font:11.5px/11.5px 'Liberation Serif', serif;text-align:center;color:#1a1a1a;white-space:nowrap;-webkit-text-stroke:0.12px #1a1a1a;">98</div>
<div style="position:absolute;left:361px;top:355.32px;width:63.00px;font:11.5px/11.5px 'Liberation Serif', serif;text-align:center;color:#1a1a1a;white-space:nowrap;-webkit-text-stroke:0.12px #1a1a1a;">135</div>
<div style="position:absolute;left:424px;top:355.32px;width:64.00px;font:11.5px/11.5px 'Liberation Serif', serif;text-align:center;color:#1a1a1a;white-space:nowrap;-webkit-text-stroke:0.12px #1a1a1a;">135</div>
<div style="position:absolute;left:488px;top:355.32px;width:62.00px;font:11.5px/11.5px 'Liberation Serif', serif;text-align:center;color:#1a1a1a;white-space:nowrap;-webkit-text-stroke:0.12px #1a1a1a;">263</div>
<div style="position:absolute;left:550px;top:355.32px;width:63.00px;font:11.5px/11.5px 'Liberation Serif', serif;text-align:right;color:#e03030;white-space:nowrap;padding-right:5.2px;box-sizing:border-box;-webkit-text-stroke:0.12px #e03030;">-53</div>
<div style="position:absolute;left:613px;top:355.32px;width:64.00px;font:bold 11.5px/11.5px 'Liberation Serif', serif;text-align:right;color:#1a1a1a;white-space:nowrap;padding-right:6.2px;box-sizing:border-box;-webkit-text-stroke:0.12px #1a1a1a;">3.228</div>
<div style="position:absolute;left:677px;top:355.32px;width:74.00px;font:bold 11.5px/11.5px 'Liberation Serif', serif;text-align:center;color:#1a1a1a;white-space:nowrap;-webkit-text-stroke:0.12px #1a1a1a;">m</div>
<div style="position:absolute;left:813px;top:355.32px;width:64.00px;font:11.5px/11.5px 'Liberation Serif', serif;text-align:right;color:#1a1a1a;white-space:nowrap;padding-right:4.6px;box-sizing:border-box;-webkit-text-stroke:0.12px #1a1a1a;">0,50</div>
<div style="position:absolute;left:877px;top:355.32px;width:55.00px;font:11.5px/11.5px 'Liberation Serif', serif;text-align:right;color:#e03030;white-space:nowrap;padding-right:5.7px;box-sizing:border-box;-webkit-text-stroke:0.12px #e03030;">-26,50</div>
<div style="position:absolute;left:932px;top:355.32px;width:65.00px;font:bold 11.5px/11.5px 'Liberation Serif', serif;text-align:right;color:#1a1a1a;white-space:nowrap;padding-right:6px;box-sizing:border-box;-webkit-text-stroke:0.12px #1a1a1a;">1089,00</div>
<div style="position:absolute;left:8px;top:370.67px;width:76.00px;font:11.5px/11.5px 'Liberation Serif', serif;text-align:right;color:#1a1a1a;white-space:nowrap;padding-right:3.5px;box-sizing:border-box;-webkit-text-stroke:0.12px #1a1a1a;">02.11.2017</div>
<div style="position:absolute;left:84px;top:370.67px;width:24.00px;font:11.5px/11.5px 'Liberation Serif', serif;text-align:right;color:#1a1a1a;white-space:nowrap;padding-right:1.8px;box-sizing:border-box;-webkit-text-stroke:0.12px #1a1a1a;">2 -</div>
<div style="position:absolute;left:108px;top:370.67px;width:64.00px;font:11.5px/11.5px 'Liberation Serif', serif;text-align:left;color:#1a1a1a;white-space:nowrap;padding-left:3.4px;box-sizing:border-box;-webkit-text-stroke:0.12px #1a1a1a;">065</div>
<div style="position:absolute;left:172px;top:370.67px;width:126.00px;font:11.5px/11.5px 'Liberation Serif', serif;text-align:left;color:#1a1a1a;white-space:nowrap;padding-left:2.5px;box-sizing:border-box;-webkit-text-stroke:0.12px #1a1a1a;">MrGreen (SpeedRoulette)</div>
<div style="position:absolute;left:298px;top:370.67px;width:63.00px;font:11.5px/11.5px 'Liberation Serif', serif;text-align:center;color:#1a1a1a;white-space:nowrap;-webkit-text-stroke:0.12px #1a1a1a;">62</div>
<div style="position:absolute;left:361px;top:370.67px;width:63.00px;font:11.5px/11.5px 'Liberation Serif', serif;text-align:center;color:#1a1a1a;white-space:nowrap;-webkit-text-stroke:0.12px #1a1a1a;">99</div>
<div style="position:absolute;left:424px;top:370.67px;width:64.00px;font:11.5px/11.5px 'Liberation Serif', serif;text-align:center;color:#1a1a1a;white-space:nowrap;-webkit-text-stroke:0.12px #1a1a1a;">118</div>
<div style="position:absolute;left:488px;top:370.67px;width:62.00px;font:11.5px/11.5px 'Liberation Serif', serif;text-align:center;color:#1a1a1a;white-space:nowrap;-webkit-text-stroke:0.12px #1a1a1a;">42</div>
<div style="position:absolute;left:550px;top:370.67px;width:63.00px;font:11.5px/11.5px 'Liberation Serif', serif;text-align:right;color:#1a1a1a;white-space:nowrap;padding-right:5.2px;box-sizing:border-box;-webkit-text-stroke:0.12px #1a1a1a;">57</div>
<div style="position:absolute;left:613px;top:370.67px;width:64.00px;font:bold 11.5px/11.5px 'Liberation Serif', serif;text-align:right;color:#1a1a1a;white-space:nowrap;padding-right:6.2px;box-sizing:border-box;-webkit-text-stroke:0.12px #1a1a1a;">3.285</div>
<div style="position:absolute;left:813px;top:370.67px;width:64.00px;font:11.5px/11.5px 'Liberation Serif', serif;text-align:right;color:#1a1a1a;white-space:nowrap;padding-right:4.6px;box-sizing:border-box;-webkit-text-stroke:0.12px #1a1a1a;">0,50</div>
<div style="position:absolute;left:877px;top:370.67px;width:55.00px;font:11.5px/11.5px 'Liberation Serif', serif;text-align:right;color:#1a1a1a;white-space:nowrap;padding-right:5.7px;box-sizing:border-box;-webkit-text-stroke:0.12px #1a1a1a;">28,50</div>
<div style="position:absolute;left:932px;top:370.67px;width:65.00px;font:bold 11.5px/11.5px 'Liberation Serif', serif;text-align:right;color:#1a1a1a;white-space:nowrap;padding-right:6px;box-sizing:border-box;-webkit-text-stroke:0.12px #1a1a1a;">1117,50</div>
<div style="position:absolute;left:8px;top:402.0px;width:743.50px;height:1.10px;background:#222"></div>
<div style="position:absolute;left:812px;top:402.0px;width:185.00px;height:1.10px;background:#222"></div>
<div style="position:absolute;left:8px;top:403.1px;width:743.50px;height:13.50px;background:#d9d9d9"></div>
<div style="position:absolute;left:812px;top:403.1px;width:185.00px;height:13.50px;background:#d9d9d9"></div>
<div style="position:absolute;left:298px;top:403.1px;width:379.00px;height:13.50px;background:#fff"></div>
<div style="position:absolute;left:877px;top:403.1px;width:120.00px;height:13.50px;background:#fff"></div>
<div style="position:absolute;left:360.5px;top:403.1px;width:1.00px;height:13.50px;background:#e0e2e5"></div>
<div style="position:absolute;left:423.5px;top:403.1px;width:1.00px;height:13.50px;background:#e0e2e5"></div>
<div style="position:absolute;left:487.5px;top:403.1px;width:1.00px;height:13.50px;background:#e0e2e5"></div>
<div style="position:absolute;left:549.5px;top:403.1px;width:1.00px;height:13.50px;background:#e0e2e5"></div>
<div style="position:absolute;left:612.5px;top:403.1px;width:1.00px;height:13.50px;background:#e0e2e5"></div>
<div style="position:absolute;left:931.5px;top:403.1px;width:1.00px;height:13.50px;background:#e0e2e5"></div>
<div style="position:absolute;left:8px;top:416.6px;width:743.50px;height:4.00px;background:#808080"></div>
<div style="position:absolute;left:812px;top:416.6px;width:185.00px;height:4.00px;background:#808080"></div>
<div style="position:absolute;left:298px;top:405.27px;width:63.00px;font:11.5px/11.5px 'Liberation Serif', serif;text-align:center;color:#1a1a1a;white-space:nowrap;-webkit-text-stroke:0.12px #1a1a1a;">10.193</div>
<div style="position:absolute;left:424px;top:405.27px;width:64.00px;font:11.5px/11.5px 'Liberation Serif', serif;text-align:center;color:#1a1a1a;white-space:nowrap;-webkit-text-stroke:0.12px #1a1a1a;">19.370</div>
<div style="position:absolute;left:550px;top:405.27px;width:63.00px;font:11.5px/11.5px 'Liberation Serif', serif;text-align:center;color:#1a1a1a;white-space:nowrap;-webkit-text-stroke:0.12px #1a1a1a;">3.285</div>
<div style="position:absolute;left:613px;top:405.27px;width:64.00px;font:bold 11.5px/11.5px 'Liberation Serif', serif;text-align:right;color:#1a1a1a;white-space:nowrap;padding-right:6.2px;box-sizing:border-box;-webkit-text-stroke:0.12px #1a1a1a;">3.285</div>
<div style="position:absolute;left:877px;top:405.27px;width:55.00px;font:11.5px/11.5px 'Liberation Serif', serif;text-align:right;color:#1a1a1a;white-space:nowrap;padding-right:5.7px;box-sizing:border-box;-webkit-text-stroke:0.12px #1a1a1a;">1117,50</div>
<div style="position:absolute;left:932px;top:405.27px;width:65.00px;font:bold 11.5px/11.5px 'Liberation Serif', serif;text-align:right;color:#1a1a1a;white-space:nowrap;padding-right:6px;box-sizing:border-box;-webkit-text-stroke:0.12px #1a1a1a;">1117,50</div>
<div style="position:absolute;left:298px;top:403.1px;width:0;height:0;border-top:5px solid #217346;border-right:5px solid transparent"></div>
<div style="position:absolute;left:424px;top:403.1px;width:0;height:0;border-top:5px solid #217346;border-right:5px solid transparent"></div>
<div style="position:absolute;left:550px;top:403.1px;width:0;height:0;border-top:5px solid #217346;border-right:5px solid transparent"></div>
<div style="position:absolute;left:613px;top:403.1px;width:0;height:0;border-top:5px solid #217346;border-right:5px solid transparent"></div>
<div style="position:absolute;left:10.5px;top:438.47px;width:159.50px;font:11.5px/11.5px 'Liberation Serif', serif;text-align:left;color:#1a1a1a;white-space:nowrap;-webkit-text-stroke:0.12px #1a1a1a;">Anzahl der Plus-Partien</div>
<div style="position:absolute;left:10.5px;top:453.77px;width:159.50px;font:11.5px/11.5px 'Liberation Serif', serif;text-align:left;color:#1a1a1a;white-space:nowrap;-webkit-text-stroke:0.12px #1a1a1a;">Anzahl der Minus-Partien</div>
<div style="position:absolute;left:10.5px;top:468.77px;width:159.50px;font:11.5px/11.5px 'Liberation Serif', serif;text-align:left;color:#1a1a1a;white-space:nowrap;-webkit-text-stroke:0.12px #1a1a1a;">Anzahl der Platzer</div>
<div style="position:absolute;left:175.5px;top:438.47px;width:44.50px;font:11.5px/11.5px 'Liberation Serif', serif;text-align:left;color:#1a1a1a;white-space:nowrap;-webkit-text-stroke:0.12px #1a1a1a;">126</div>
<div style="position:absolute;left:174.5px;top:453.77px;width:45.50px;font:11.5px/11.5px 'Liberation Serif', serif;text-align:left;color:#1a1a1a;white-space:nowrap;-webkit-text-stroke:0.12px #1a1a1a;">31</div>
<div style="position:absolute;left:174.5px;top:468.77px;width:45.50px;font:11.5px/11.5px 'Liberation Serif', serif;text-align:left;color:#1a1a1a;white-space:nowrap;-webkit-text-stroke:0.12px #1a1a1a;">8</div>
<div style="position:absolute;left:172.3px;top:436px;width:0;height:0;border-top:4.4px solid #217346;border-right:4.4px solid transparent"></div>
<div style="position:absolute;left:7.7px;top:496.3px;width:164.20px;height:30.30px;background:#b8cce4"></div>
<div style="position:absolute;left:14px;top:499.47px;width:156.00px;font:11.5px/11.5px 'Liberation Serif', serif;text-align:left;color:#1a1a1a;white-space:nowrap;-webkit-text-stroke:0.12px #1a1a1a;">Gewinn vom Umsatz</div>
<div style="position:absolute;left:53px;top:514.77px;width:67.00px;font:bold 11.5px/11.5px 'Liberation Serif', serif;text-align:left;color:#1a1a1a;white-space:nowrap;-webkit-text-stroke:0.12px #1a1a1a;">16,96</div>
<div style="position:absolute;left:111px;top:514.77px;width:29.00px;font:bold 11.5px/11.5px 'Liberation Serif', serif;text-align:left;color:#1a1a1a;white-space:nowrap;-webkit-text-stroke:0.12px #1a1a1a;">%</div>
<svg style="position:absolute;left:0;top:0" width="1000" height="647">
<rect x="316.5" y="434.5" width="434.5" height="205.5" fill="#fff" stroke="#8c8c8c" stroke-width="1"/>
<line x1="356" y1="604.30" x2="739.5" y2="604.30" stroke="#909090" stroke-width="1"/>
<text x="348.8" y="606.60" text-anchor="end" font-family="Liberation Sans, sans-serif" font-size="9.7" fill="#333" stroke="#333" stroke-width="0.15">0</text>
<line x1="356" y1="581.30" x2="739.5" y2="581.30" stroke="#909090" stroke-width="1"/>
<text x="348.8" y="583.60" text-anchor="end" font-family="Liberation Sans, sans-serif" font-size="9.7" fill="#333" stroke="#333" stroke-width="0.15">500</text>
<line x1="356" y1="559.10" x2="739.5" y2="559.10" stroke="#909090" stroke-width="1"/>
<text x="348.8" y="561.40" text-anchor="end" font-family="Liberation Sans, sans-serif" font-size="9.7" fill="#333" stroke="#333" stroke-width="0.15">1000</text>
<line x1="356" y1="536.00" x2="739.5" y2="536.00" stroke="#909090" stroke-width="1"/>
<text x="348.8" y="538.30" text-anchor="end" font-family="Liberation Sans, sans-serif" font-size="9.7" fill="#333" stroke="#333" stroke-width="0.15">1500</text>
<line x1="356" y1="513.00" x2="739.5" y2="513.00" stroke="#909090" stroke-width="1"/>
<text x="348.8" y="515.30" text-anchor="end" font-family="Liberation Sans, sans-serif" font-size="9.7" fill="#333" stroke="#333" stroke-width="0.15">2000</text>
<line x1="356" y1="490.00" x2="739.5" y2="490.00" stroke="#909090" stroke-width="1"/>
<text x="348.8" y="492.30" text-anchor="end" font-family="Liberation Sans, sans-serif" font-size="9.7" fill="#333" stroke="#333" stroke-width="0.15">2500</text>
<line x1="356" y1="467.90" x2="739.5" y2="467.90" stroke="#909090" stroke-width="1"/>
<text x="348.8" y="470.20" text-anchor="end" font-family="Liberation Sans, sans-serif" font-size="9.7" fill="#333" stroke="#333" stroke-width="0.15">3000</text>
<line x1="356" y1="445.00" x2="739.5" y2="445.00" stroke="#909090" stroke-width="1"/>
<text x="348.8" y="447.30" text-anchor="end" font-family="Liberation Sans, sans-serif" font-size="9.7" fill="#333" stroke="#333" stroke-width="0.15">3500</text>
<line x1="359.5" y1="444.5" x2="359.5" y2="604.5" stroke="#909090" stroke-width="1"/>
<path d="M360.00 604.5v3 M362.23 604.5v3 M364.46 604.5v3 M366.70 604.5v3 M368.93 604.5v3 M371.16 604.5v3 M373.39 604.5v3 M375.63 604.5v3 M377.86 604.5v3 M380.09 604.5v3 M382.32 604.5v3 M384.56 604.5v3 M386.79 604.5v3 M389.02 604.5v3 M391.25 604.5v3 M393.49 604.5v3 M395.72 604.5v3 M397.95 604.5v3 M400.18 604.5v3 M402.41 604.5v3 M404.65 604.5v3 M406.88 604.5v3 M409.11 604.5v3 M411.34 604.5v3 M413.58 604.5v3 M415.81 604.5v3 M418.04 604.5v3 M420.27 604.5v3 M422.51 604.5v3 M424.74 604.5v3 M426.97 604.5v3 M429.20 604.5v3 M431.44 604.5v3 M433.67 604.5v3 M435.90 604.5v3 M438.13 604.5v3 M440.36 604.5v3 M442.60 604.5v3 M444.83 604.5v3 M447.06 604.5v3 M449.29 604.5v3 M451.53 604.5v3 M453.76 604.5v3 M455.99 604.5v3 M458.22 604.5v3 M460.46 604.5v3 M462.69 604.5v3 M464.92 604.5v3 M467.15 604.5v3 M469.39 604.5v3 M471.62 604.5v3 M473.85 604.5v3 M476.08 604.5v3 M478.31 604.5v3 M480.55 604.5v3 M482.78 604.5v3 M485.01 604.5v3 M487.24 604.5v3 M489.48 604.5v3 M491.71 604.5v3 M493.94 604.5v3 M496.17 604.5v3 M498.41 604.5v3 M500.64 604.5v3 M502.87 604.5v3 M505.10 604.5v3 M507.34 604.5v3 M509.57 604.5v3 M511.80 604.5v3 M514.03 604.5v3 M516.26 604.5v3 M518.50 604.5v3 M520.73 604.5v3 M522.96 604.5v3 M525.19 604.5v3 M527.43 604.5v3 M529.66 604.5v3 M531.89 604.5v3 M534.12 604.5v3 M536.36 604.5v3 M538.59 604.5v3 M540.82 604.5v3 M543.05 604.5v3 M545.29 604.5v3 M547.52 604.5v3 M549.75 604.5v3 M551.98 604.5v3 M554.21 604.5v3 M556.45 604.5v3 M558.68 604.5v3 M560.91 604.5v3 M563.14 604.5v3 M565.38 604.5v3 M567.61 604.5v3 M569.84 604.5v3 M572.07 604.5v3 M574.31 604.5v3 M576.54 604.5v3 M578.77 604.5v3 M581.00 604.5v3 M583.24 604.5v3 M585.47 604.5v3 M587.70 604.5v3 M589.93 604.5v3 M592.16 604.5v3 M594.40 604.5v3 M596.63 604.5v3 M598.86 604.5v3 M601.09 604.5v3 M603.33 604.5v3 M605.56 604.5v3 M607.79 604.5v3 M610.02 604.5v3 M612.26 604.5v3 M614.49 604.5v3 M616.72 604.5v3 M618.95 604.5v3 M621.19 604.5v3 M623.42 604.5v3 M625.65 604.5v3 M627.88 604.5v3 M630.11 604.5v3 M632.35 604.5v3 M634.58 604.5v3 M636.81 604.5v3 M639.04 604.5v3 M641.28 604.5v3 M643.51 604.5v3 M645.74 604.5v3 M647.97 604.5v3 M650.21 604.5v3 M652.44 604.5v3 M654.67 604.5v3 M656.90 604.5v3 M659.14 604.5v3 M661.37 604.5v3 M663.60 604.5v3 M665.83 604.5v3 M668.06 604.5v3 M670.30 604.5v3 M672.53 604.5v3 M674.76 604.5v3 M676.99 604.5v3 M679.23 604.5v3 M681.46 604.5v3 M683.69 604.5v3 M685.92 604.5v3 M688.16 604.5v3 M690.39 604.5v3 M692.62 604.5v3 M694.85 604.5v3 M697.09 604.5v3 M699.32 604.5v3 M701.55 604.5v3 M703.78 604.5v3 M706.01 604.5v3 M708.25 604.5v3 M710.48 604.5v3 M712.71 604.5v3 M714.94 604.5v3 M717.18 604.5v3 M719.41 604.5v3 M721.64 604.5v3 M723.87 604.5v3 M726.11 604.5v3 M728.34 604.5v3 M730.57 604.5v3 M732.80 604.5v3 M735.04 604.5v3 M737.27 604.5v3 M739.50 604.5v3" stroke="#777" stroke-width="0.9"/>
<text transform="translate(365.08,613) rotate(-90)" text-anchor="end" font-family="Liberation Sans, sans-serif" font-size="9.5" fill="#333" stroke="#333" stroke-width="0.15">1</text>
<text transform="translate(378.46,613) rotate(-90)" text-anchor="end" font-family="Liberation Sans, sans-serif" font-size="9.5" fill="#333" stroke="#333" stroke-width="0.15">7</text>
<text transform="translate(391.84,613) rotate(-90)" text-anchor="end" font-family="Liberation Sans, sans-serif" font-size="9.5" fill="#333" stroke="#333" stroke-width="0.15">13</text>
<text transform="translate(405.22,613) rotate(-90)" text-anchor="end" font-family="Liberation Sans, sans-serif" font-size="9.5" fill="#333" stroke="#333" stroke-width="0.15">19</text>
<text transform="translate(418.60,613) rotate(-90)" text-anchor="end" font-family="Liberation Sans, sans-serif" font-size="9.5" fill="#333" stroke="#333" stroke-width="0.15">25</text>
<text transform="translate(431.98,613) rotate(-90)" text-anchor="end" font-family="Liberation Sans, sans-serif" font-size="9.5" fill="#333" stroke="#333" stroke-width="0.15">31</text>
<text transform="translate(445.36,613) rotate(-90)" text-anchor="end" font-family="Liberation Sans, sans-serif" font-size="9.5" fill="#333" stroke="#333" stroke-width="0.15">37</text>
<text transform="translate(458.74,613) rotate(-90)" text-anchor="end" font-family="Liberation Sans, sans-serif" font-size="9.5" fill="#333" stroke="#333" stroke-width="0.15">43</text>
<text transform="translate(472.12,613) rotate(-90)" text-anchor="end" font-family="Liberation Sans, sans-serif" font-size="9.5" fill="#333" stroke="#333" stroke-width="0.15">49</text>
<text transform="translate(485.50,613) rotate(-90)" text-anchor="end" font-family="Liberation Sans, sans-serif" font-size="9.5" fill="#333" stroke="#333" stroke-width="0.15">55</text>
<text transform="translate(498.88,613) rotate(-90)" text-anchor="end" font-family="Liberation Sans, sans-serif" font-size="9.5" fill="#333" stroke="#333" stroke-width="0.15">61</text>
<text transform="translate(512.26,613) rotate(-90)" text-anchor="end" font-family="Liberation Sans, sans-serif" font-size="9.5" fill="#333" stroke="#333" stroke-width="0.15">67</text>
<text transform="translate(525.64,613) rotate(-90)" text-anchor="end" font-family="Liberation Sans, sans-serif" font-size="9.5" fill="#333" stroke="#333" stroke-width="0.15">73</text>
<text transform="translate(539.02,613) rotate(-90)" text-anchor="end" font-family="Liberation Sans, sans-serif" font-size="9.5" fill="#333" stroke="#333" stroke-width="0.15">79</text>
<text transform="translate(552.40,613) rotate(-90)" text-anchor="end" font-family="Liberation Sans, sans-serif" font-size="9.5" fill="#333" stroke="#333" stroke-width="0.15">85</text>
<text transform="translate(565.78,613) rotate(-90)" text-anchor="end" font-family="Liberation Sans, sans-serif" font-size="9.5" fill="#333" stroke="#333" stroke-width="0.15">91</text>
<text transform="translate(579.16,613) rotate(-90)" text-anchor="end" font-family="Liberation Sans, sans-serif" font-size="9.5" fill="#333" stroke="#333" stroke-width="0.15">97</text>
<text transform="translate(592.54,613) rotate(-90)" text-anchor="end" font-family="Liberation Sans, sans-serif" font-size="9.5" fill="#333" stroke="#333" stroke-width="0.15">103</text>
<text transform="translate(605.92,613) rotate(-90)" text-anchor="end" font-family="Liberation Sans, sans-serif" font-size="9.5" fill="#333" stroke="#333" stroke-width="0.15">109</text>
<text transform="translate(619.30,613) rotate(-90)" text-anchor="end" font-family="Liberation Sans, sans-serif" font-size="9.5" fill="#333" stroke="#333" stroke-width="0.15">115</text>
<text transform="translate(632.68,613) rotate(-90)" text-anchor="end" font-family="Liberation Sans, sans-serif" font-size="9.5" fill="#333" stroke="#333" stroke-width="0.15">121</text>
<text transform="translate(646.06,613) rotate(-90)" text-anchor="end" font-family="Liberation Sans, sans-serif" font-size="9.5" fill="#333" stroke="#333" stroke-width="0.15">127</text>
<text transform="translate(659.44,613) rotate(-90)" text-anchor="end" font-family="Liberation Sans, sans-serif" font-size="9.5" fill="#333" stroke="#333" stroke-width="0.15">133</text>
<text transform="translate(672.82,613) rotate(-90)" text-anchor="end" font-family="Liberation Sans, sans-serif" font-size="9.5" fill="#333" stroke="#333" stroke-width="0.15">139</text>
<text transform="translate(686.20,613) rotate(-90)" text-anchor="end" font-family="Liberation Sans, sans-serif" font-size="9.5" fill="#333" stroke="#333" stroke-width="0.15">145</text>
<text transform="translate(699.58,613) rotate(-90)" text-anchor="end" font-family="Liberation Sans, sans-serif" font-size="9.5" fill="#333" stroke="#333" stroke-width="0.15">151</text>
<text transform="translate(712.96,613) rotate(-90)" text-anchor="end" font-family="Liberation Sans, sans-serif" font-size="9.5" fill="#333" stroke="#333" stroke-width="0.15">157</text>
<text transform="translate(726.34,613) rotate(-90)" text-anchor="end" font-family="Liberation Sans, sans-serif" font-size="9.5" fill="#333" stroke="#333" stroke-width="0.15">163</text>
<text transform="translate(739.72,613) rotate(-90)" text-anchor="end" font-family="Liberation Sans, sans-serif" font-size="9.5" fill="#333" stroke="#333" stroke-width="0.15">169</text>
<polyline points="360.4,601.1 363.1,601.1 371.2,590.9 377.2,587.6 381.5,581.7 383.7,590.9 389.6,583.8 392.9,592.5 396.7,586.5 398.8,591.4 405.9,584.4 410.2,580.6 413.4,580 416.7,576.3 420,576.8 425.3,572.5 428.6,569.2 430.8,575.7 437.3,567.6 439.4,576.8 443.7,571.4 448.6,569.2 450.8,577.3 456.5,571.7 460.8,566.3 463,564.7 465.7,558.7 470.6,554.9 474.9,569 477,567.9 481.4,562 484.6,560.3 486.3,563 488.4,559.2 491.7,557.6 493.3,558.7 494.9,566.3 497.6,563.6 500.9,564.7 504.7,567.4 506.3,565.2 509,566.3 512.2,563 516,557.6 518.7,556 520.3,557.6 522,554.9 524.7,556 526.8,553.8 529.5,553.3 531.7,551.1 535,544.6 536.6,545.7 539.3,546.3 542,549 545.2,545.7 549.6,539 553.7,537.2 557.7,532 561.2,529.7 566.4,524.5 568.8,526.2 571.7,522.7 575.1,519.8 576.9,522.1 582.1,516.9 586.1,514 590.2,510 592.5,508.8 594.8,504.2 597.7,512.3 604.1,504.8 608.7,508.8 614.5,504.2 616.3,504.8 619.7,500.1 624.4,503 628.4,500.7 630.7,502.2 634.2,498.4 637.7,495.5 640.6,491.4 643.2,490.3 646,488.7 648.7,487.6 650.8,489.2 655.2,489.2 659.5,483.3 662.2,485.2 668.7,480.3 670.3,482.2 673,490.9 676.8,487.6 680,483.8 683.3,482.2 684.9,482.7 686.5,480.6 689.2,482.2 694.1,474.6 696.3,473.3 699.5,470.8 704.4,474.1 709.8,467.1 715.8,461.1 721.7,455.2 725,457.9 727.1,454.9" fill="none" stroke="#4a6f9c" stroke-width="2" stroke-linejoin="round" stroke-linecap="round"/>
</svg>
</body></html>
